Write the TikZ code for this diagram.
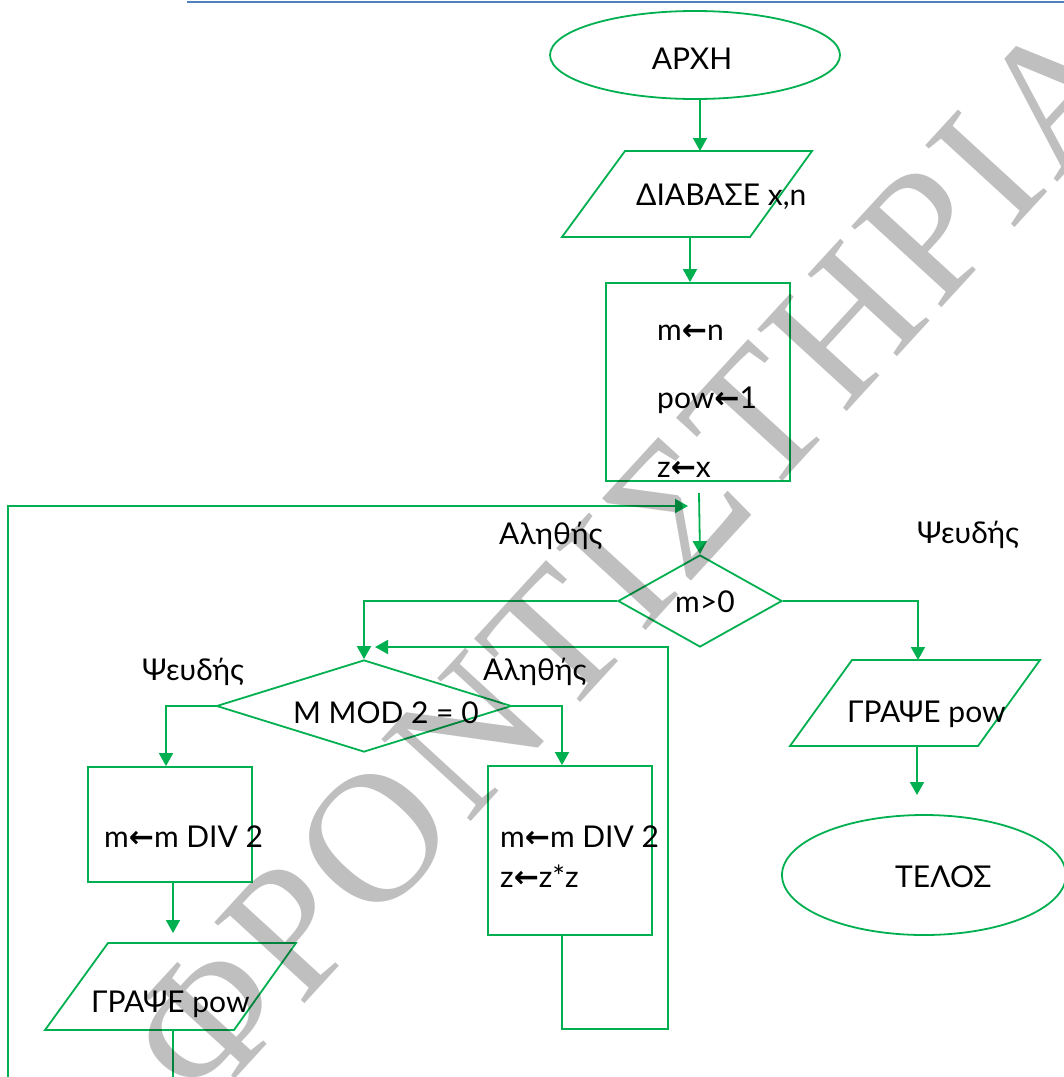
\documentclass[tikz,border=0pt]{standalone}
\usepackage{fontspec}
\setmainfont{Lato}
\newfontfamily\arrowfont{DejaVu Sans}
\newfontfamily\wmfont{Liberation Serif}[LetterSpace=3]
\usetikzlibrary{shapes.geometric,arrows.meta}
\definecolor{fg}{RGB}{0,176,80}
\definecolor{topblue}{RGB}{79,129,189}
\definecolor{wmgray}{RGB}{191,191,191}
\newcommand{\myarr}{{\arrowfont\bfseries\char"2190}}
\tikzset{
  line/.style={draw=fg, line width=1.8pt},
  arr/.style={line, -{Triangle[length=13pt,width=14pt]}},
  shp/.style={draw=fg, line width=1.8pt, inner sep=0pt},
  txt/.style={font=\fontsize{30}{36}\selectfont, inner sep=0pt, text=black},
  wmtxt/.style={font=\wmfont\fontsize{185}{185}\selectfont, inner sep=0pt, text=wmgray},
}
\begin{document}
\begin{tikzpicture}[x=1pt,y=-1pt]
\useasboundingbox (0,0) rectangle (1064,1077);
\fill[white] (0,0) rectangle (1064,1077);
\begin{scope}
\clip (0,0) rectangle (1064,1077);
% top rule
\draw[topblue, line width=2.8pt] (187,2) -- (1064,2);

% shapes
\node[shp, ellipse, minimum width=290pt, minimum height=88pt] (start) at (695,55) {};
\draw[line] (625,151) coordinate (p1tl) -- (812,151) -- (750,237) -- (562,237) -- cycle;
\coordinate (p1in) at (700,151);
\coordinate (p1out) at (690,237);
\node[shp, rectangle, minimum width=184pt, minimum height=198pt] (init) at (698,382) {};
\node[shp, diamond, minimum width=164pt, minimum height=92pt] (cond) at (700,601) {};
\node[shp, diamond, minimum width=295pt, minimum height=92pt] (mod) at (364,706) {};
\node[shp, rectangle, minimum width=164pt, minimum height=115pt] (box1) at (170,824.5) {};
\node[shp, rectangle, minimum width=164pt, minimum height=169pt] (box2) at (570,850.5) {};
\draw[line] (108,943) coordinate (p2tl) -- (296,943) -- (234,1030) -- (45,1030) -- cycle;
\draw[line] (852,660) coordinate (p3tl) -- (1040,660) -- (978,746) -- (790,746) -- cycle;
\node[shp, ellipse, minimum width=284pt, minimum height=120pt] (stop) at (924,875) {};

% texts
\node[txt, anchor=base] (tstart) at (692,69) {ΑΡΧΗ};
\node[txt, anchor=base west] (tread) at (636,205) {ΔΙΑΒΑΣΕ x,n};
\node[txt, anchor=base west] (ti1) at (657,340) {m\myarr n};
\node[txt, anchor=base west] (ti2) at (657,408) {pow\myarr 1};
\node[txt, anchor=base west] (ti3) at (657,477) {z\myarr x};
\node[txt, anchor=base west] (ltrue1) at (499,544) {Αληθής};
\node[txt, anchor=base west] (lfalse1) at (917,543) {Ψευδής};
\node[txt, anchor=base west] (tcond) at (675,612) {m>0};
\node[txt, anchor=base west] (lfalse2) at (142,680) {Ψευδής};
\node[txt, anchor=base west] (ltrue2) at (483,680) {Αληθής};
\node[txt, anchor=base west] (tmod) at (293,723) {M MOD 2 = 0};
\node[txt, anchor=base west] (tb1) at (104,847) {m\myarr m DIV 2};
\node[txt, anchor=base west] (tb2a) at (500,847) {m\myarr m DIV 2};
\node[txt, anchor=base west] (tb2b) at (500,887) {z\myarr z*z};
\node[txt, anchor=base west] (tp2) at (91,1012) {ΓΡΑΨΕ pow};
\node[txt, anchor=base west] (tp3) at (847,722) {ΓΡΑΨΕ pow};
\node[txt, anchor=base west] (tstop) at (895,887) {ΤΕΛΟΣ};

% connectors
\draw[arr] (start.south -| p1in) -- (p1in);
\draw[arr] (p1out) -- (p1out |- init.north);
\coordinate (loopin) at (699,493);
\draw[arr] (loopin) -- (cond.north);
\coordinate (p2out) at (173,1030);
\coordinate (outerleft) at (8,1110);
\coordinate (outertip) at (688,506);
\draw[arr] (p2out) -- (p2out |- outerleft) -- (outerleft) -- (outerleft |- outertip) -- (outertip);
\draw[arr] (cond.west) -| (mod.north);
\coordinate (p3in) at (918,660);
\draw[arr] (cond.east) -| (p3in);
\draw[arr] (mod.west) -| ([xshift=-4pt]box1.north);
\draw[arr] (mod.east) -| ([xshift=-8pt]box2.north);
\coordinate (p2in) at (173,933);
\draw[arr] (box1.south -| p2in) -- (p2in);
\coordinate (innertip) at (375,647);
\coordinate (innerbot) at (562,1029);
\draw[arr] (box2.south -| innerbot) -- (innerbot) -| (668,647) -- (innertip);
\coordinate (p3out) at (917,746);
\coordinate (stopin) at (917,795);
\draw[arr] (p3out) -- (stopin);

% watermark
\begin{scope}[blend mode=multiply]
\node[wmtxt, rotate=47.5, anchor=base west] (wm1) at (205,1112) {ΦΡΟΝΤΙΣΤΗΡΙΑ};
\end{scope}
\end{scope}
\end{tikzpicture}
\end{document}
